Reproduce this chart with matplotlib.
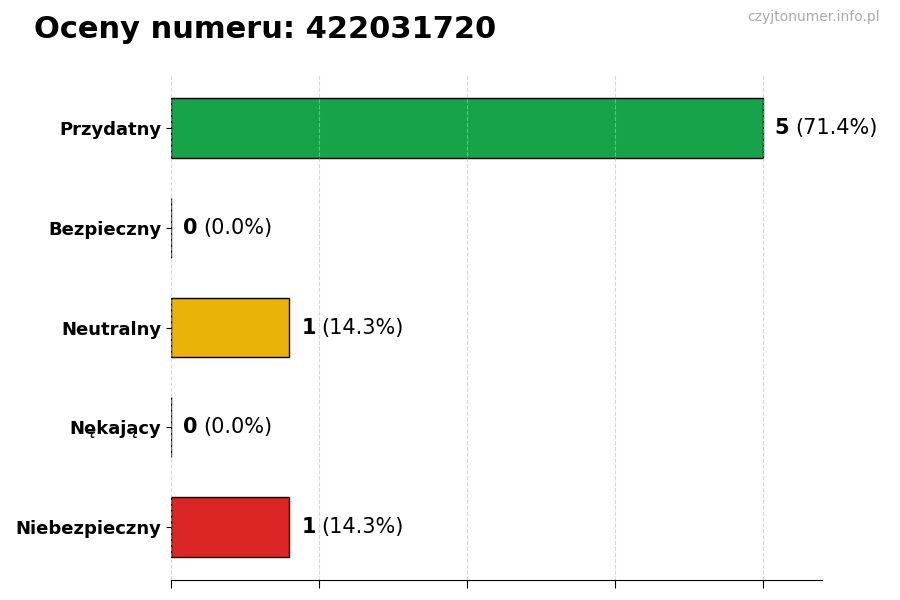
import matplotlib
matplotlib.use("Agg")
import matplotlib.pyplot as plt
from matplotlib.transforms import offset_copy

categories = ["Przydatny", "Bezpieczny", "Neutralny", "Nękający", "Niebezpieczny"]
counts = [5, 0, 1, 0, 1]
colors = ["#16a34a", "#22c55e", "#eab308", "#f97316", "#dc2626"]
title = "Oceny numeru: 422031720"
watermark = "czyjtonumer.info.pl"

total = sum(counts)
fig = plt.figure(figsize=(9, 6), dpi=100)
ax = fig.add_axes([0.19, 0.0333, 0.7233, 0.8417])

ypos = list(range(len(categories)))[::-1]
ax.barh(ypos, counts, height=0.6, color=colors, edgecolor="black", linewidth=1, zorder=2)
ax.set_yticks(ypos)
ax.set_yticklabels(categories, fontsize=13, fontweight="bold")
ax.set_xlim(0, max(counts) * 1.1)
ax.set_xticks([0, 1.25, 2.5, 3.75, 5])
ax.set_xticklabels([])
ax.tick_params(axis="x", length=6)
ax.grid(axis="x", linestyle="--", color="#bbbbbb", alpha=0.6, zorder=3)
ax.set_axisbelow(False)
for s in ["top", "right", "left"]:
    ax.spines[s].set_visible(False)

fig.canvas.draw()
renderer = fig.canvas.get_renderer()
for y, c in zip(ypos, counts):
    pct = 100 * c / total
    t1 = ax.text(c + 0.1, y, f"{c}", va="center", ha="left", fontsize=15, fontweight="bold")
    bb = t1.get_window_extent(renderer=renderer)
    tr = offset_copy(ax.transData, fig=fig, x=bb.width + 6, y=0, units="dots")
    ax.text(c + 0.1, y, f"({pct:.1f}%)", va="center", ha="left", fontsize=15, transform=tr)

fig.text(0.038, 0.95, title, fontsize=22, fontweight="bold", ha="left", va="center")
fig.text(0.978, 0.972, watermark, fontsize=10, color="#aaaaaa", ha="right", va="center")

fig.savefig("out.png", dpi=100)
